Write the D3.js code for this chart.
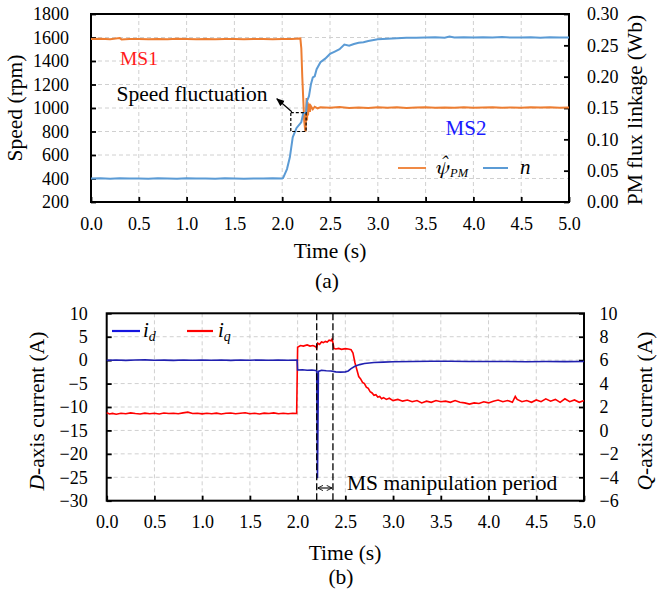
<!DOCTYPE html>
<html><head><meta charset="utf-8">
<script src="https://cdn.jsdelivr.net/npm/d3@7"></script>
</head>
<body style="margin:0;background:#fff">
<svg id="c" width="658" height="601" font-family="Liberation Serif" style="display:block;font-family:'Liberation Serif'"></svg>
<script>
// ---------------- data ----------------
const xTicks = [0,0.5,1,1.5,2,2.5,3,3.5,4,4.5,5];
const speedTicks = [200,400,600,800,1000,1200,1400,1600,1800];
const fluxTicks = [0,0.05,0.10,0.15,0.20,0.25,0.30];
const idTicks = [-30,-25,-20,-15,-10,-5,0,5,10];
const iqTicks = [-6,-4,-2,0,2,4,6,8,10];

// speed n (rpm), [time s, value]
const speedN = [[0,400],[0.1,402],[0.2,398],[0.3,403],[0.4,399],[0.5,401],[0.6,397],[0.7,402],[0.8,400],[0.9,398],[1.0,403],[1.1,399],[1.2,401],[1.3,397],[1.4,402],[1.5,400],[1.6,398],[1.7,401],[1.8,399],[1.9,402],[2.0,400],[2.01,405],[2.05,480],[2.08,580],[2.11,750],[2.15,830],[2.19,870],[2.2,880],[2.22,955],[2.25,960],[2.26,1060],[2.28,1100],[2.3,1200],[2.32,1260],[2.34,1270],[2.36,1330],[2.4,1390],[2.45,1420],[2.5,1460],[2.55,1480],[2.6,1500],[2.65,1540],[2.7,1530],[2.75,1545],[2.8,1555],[2.85,1560],[2.9,1570],[3.0,1585],[3.1,1590],[3.2,1593],[3.3,1597],[3.4,1598],[3.5,1600],[3.6,1602],[3.7,1598],[3.75,1608],[3.8,1600],[3.9,1603],[4.0,1599],[4.1,1602],[4.2,1600],[4.3,1604],[4.4,1599],[4.5,1601],[4.6,1603],[4.7,1598],[4.8,1602],[4.9,1600],[5.0,1601]];
// estimated PM flux linkage (Wb)
const fluxPsi = [[0,0.2600],[0.1,0.2605],[0.2,0.2598],[0.3,0.2615],[0.32,0.2595],[0.4,0.2600],[0.5,0.2603],[0.6,0.2598],[0.7,0.2601],[0.8,0.2599],[0.9,0.2604],[1.0,0.2600],[1.1,0.2598],[1.2,0.2602],[1.3,0.2599],[1.4,0.2601],[1.5,0.2600],[1.6,0.2598],[1.7,0.2603],[1.8,0.2600],[1.9,0.2599],[2.0,0.2602],[2.1,0.2600],[2.15,0.2605],[2.19,0.2610],[2.2,0.2450],[2.21,0.2000],[2.22,0.1650],[2.23,0.1300],[2.24,0.1150],[2.245,0.1125],[2.25,0.1400],[2.255,0.1660],[2.26,0.1300],[2.265,0.1600],[2.27,0.1380],[2.28,0.1570],[2.29,0.1440],[2.3,0.1530],[2.32,0.1480],[2.34,0.1520],[2.37,0.1495],[2.4,0.1510],[2.5,0.1505],[2.6,0.1515],[2.7,0.1502],[2.8,0.1508],[2.9,0.1500],[3.0,0.1512],[3.1,0.1503],[3.2,0.1510],[3.3,0.1502],[3.4,0.1508],[3.5,0.1510],[3.6,0.1503],[3.7,0.1509],[3.8,0.1505],[3.9,0.1511],[4.0,0.1503],[4.1,0.1508],[4.2,0.1512],[4.3,0.1504],[4.4,0.1509],[4.5,0.1503],[4.6,0.1510],[4.7,0.1506],[4.8,0.1512],[4.9,0.1504],[5.0,0.1508]];
// d-axis current (A)
const currentId = [[0,-0.05],[0.1,0.02],[0.2,-0.04],[0.3,0.03],[0.4,0.05],[0.5,-0.03],[0.6,0.0],[0.7,-0.05],[0.8,0.03],[0.9,-0.02],[1.0,0.04],[1.1,-0.03],[1.2,0.02],[1.3,-0.04],[1.4,0.03],[1.5,-0.02],[1.6,0.04],[1.7,-0.03],[1.8,0.02],[1.9,-0.02],[1.995,0.0],[2.0,-2.1],[2.05,-2.05],[2.1,-2.15],[2.15,-2.1],[2.19,-2.2],[2.2,-2.3],[2.208,-25.2],[2.218,-2.4],[2.25,-2.15],[2.3,-2.25],[2.35,-2.3],[2.4,-2.5],[2.45,-2.55],[2.5,-2.5],[2.53,-2.3],[2.56,-1.8],[2.6,-1.3],[2.65,-0.95],[2.7,-0.7],[2.75,-0.6],[2.8,-0.5],[2.9,-0.42],[3.0,-0.35],[3.2,-0.3],[3.4,-0.22],[3.6,-0.25],[3.8,-0.3],[4.0,-0.28],[4.2,-0.3],[4.4,-0.33],[4.6,-0.3],[4.8,-0.32],[5.0,-0.3]];
// q-axis current (A)
const currentIq = [[0,1.50],[0.03,1.40],[0.06,1.45],[0.1,1.38],[0.15,1.47],[0.2,1.42],[0.25,1.50],[0.3,1.44],[0.35,1.40],[0.4,1.48],[0.45,1.43],[0.5,1.46],[0.55,1.40],[0.6,1.49],[0.65,1.44],[0.7,1.47],[0.75,1.42],[0.8,1.50],[0.85,1.56],[0.9,1.44],[0.95,1.47],[1.0,1.41],[1.05,1.46],[1.1,1.43],[1.15,1.48],[1.2,1.40],[1.25,1.46],[1.3,1.49],[1.35,1.43],[1.4,1.47],[1.45,1.51],[1.5,1.42],[1.55,1.46],[1.6,1.40],[1.65,1.48],[1.7,1.44],[1.75,1.50],[1.8,1.42],[1.85,1.47],[1.9,1.43],[1.95,1.46],[1.99,1.45],[2.0,7.1],[2.03,7.25],[2.06,7.2],[2.1,7.3],[2.13,7.2],[2.16,7.25],[2.19,7.15],[2.2,7.0],[2.21,7.45],[2.23,7.35],[2.25,7.55],[2.27,7.5],[2.29,7.6],[2.31,7.55],[2.33,7.7],[2.35,7.65],[2.36,7.8],[2.37,7.5],[2.38,7.0],[2.4,6.95],[2.43,7.0],[2.46,6.92],[2.5,6.98],[2.53,6.95],[2.56,6.9],[2.58,6.6],[2.6,5.8],[2.62,5.2],[2.64,4.6],[2.66,4.4],[2.68,4.1],[2.7,4.0],[2.72,3.7],[2.74,3.6],[2.76,3.3],[2.78,3.2],[2.8,3.0],[2.82,3.05],[2.84,2.85],[2.86,2.9],[2.88,2.7],[2.9,2.8],[2.93,2.65],[2.96,2.75],[3.0,2.55],[3.05,2.65],[3.1,2.5],[3.15,2.6],[3.2,2.45],[3.25,2.55],[3.3,2.35],[3.35,2.5],[3.4,2.4],[3.45,2.55],[3.5,2.45],[3.55,2.5],[3.6,2.4],[3.65,2.55],[3.7,2.4],[3.75,2.35],[3.8,2.25],[3.85,2.35],[3.9,2.3],[3.95,2.45],[4.0,2.35],[4.05,2.5],[4.1,2.6],[4.15,2.45],[4.2,2.55],[4.25,2.4],[4.28,2.9],[4.3,2.65],[4.35,2.45],[4.4,2.55],[4.45,2.4],[4.5,2.6],[4.55,2.45],[4.6,2.7],[4.65,2.5],[4.7,2.65],[4.75,2.4],[4.8,2.7],[4.85,2.45],[4.9,2.6],[4.95,2.4],[5.0,2.55]];
// annotations
const fluctBox = {t0:2.09, t1:2.25, v0:800, v1:960};
const msPeriod = [2.2, 2.37];

// ---------------- drawing ----------------
const FONT = "'Liberation Serif', Tinos, 'Times New Roman', serif";
const svg = d3.select("#c");
const defs = svg.append("defs");
defs.append("marker").attr("id","ah").attr("viewBox","0 0 10 10").attr("refX",9).attr("refY",5)
  .attr("markerWidth",7).attr("markerHeight",7).attr("orient","auto-start-reverse")
  .append("path").attr("d","M0,1 L10,5 L0,9 z").attr("fill","#000");
defs.append("marker").attr("id","oa").attr("viewBox","0 0 10 10").attr("refX",10).attr("refY",5)
  .attr("markerWidth",6).attr("markerHeight",6).attr("orient","auto-start-reverse")
  .append("path").attr("d","M2,1 L10,5 L2,9").attr("fill","none").attr("stroke","#000").attr("stroke-width",1.3);

const TICKFS = 18, TITLEFS = 21.5;

function panel(o){
  const x = d3.scaleLinear().domain([0,5]).range([o.l,o.r]);
  const yL = d3.scaleLinear().domain(o.yLdom).range([o.b,o.t]);
  const yR = d3.scaleLinear().domain(o.yRdom).range([o.b,o.t]);
  const g = svg.append("g");
  g.append("g").selectAll("line").data(xTicks.slice(1,-1)).join("line")
    .attr("x1",d=>x(d)).attr("x2",d=>x(d)).attr("y1",o.t).attr("y2",o.b)
    .attr("stroke","#d0d0d0").attr("stroke-dasharray","4,3").attr("stroke-width",1);
  g.append("g").selectAll("line").data(o.yLticks.slice(1,-1)).join("line")
    .attr("x1",o.l).attr("x2",o.r).attr("y1",d=>yL(d)).attr("y2",d=>yL(d))
    .attr("stroke","#d0d0d0").attr("stroke-dasharray","4,3").attr("stroke-width",1);
  const ax = g.append("g").attr("transform",`translate(0,${o.b})`)
    .call(d3.axisBottom(x).tickValues(xTicks).tickFormat(d3.format(".1f")).tickSize(-5).tickPadding(o.xpad));
  const al = g.append("g").attr("transform",`translate(${o.l},0)`)
    .call(d3.axisLeft(yL).tickValues(o.yLticks).tickFormat(o.yLfmt).tickSize(-5).tickPadding(o.lpad));
  const ar = g.append("g").attr("transform",`translate(${o.r},0)`)
    .call(d3.axisRight(yR).tickValues(o.yRticks).tickFormat(o.yRfmt).tickSize(-5).tickPadding(o.rpad));
  [ax,al,ar].forEach(a=>{
    a.attr("font-family",FONT).attr("font-size",TICKFS);
    a.select(".domain").remove();
    a.selectAll("line").attr("stroke","#000").attr("stroke-width",1.8);
    a.selectAll("text").attr("font-size",TICKFS).attr("fill","#000").attr("font-family",FONT).style("font-family",FONT);
  });
  g.append("rect").attr("x",o.l).attr("y",o.t).attr("width",o.r-o.l).attr("height",o.b-o.t)
    .attr("fill","none").attr("stroke","#000").attr("stroke-width",2);
  return {x,yL,yR,g};
}

function txt(x,y,s,opt={}){
  const f = opt.font||FONT;
  const t = svg.append("text").attr("x",x).attr("y",y).attr("font-size",opt.fs||TITLEFS)
    .attr("font-family",f).style("font-family",f)
    .attr("fill",opt.fill||"#000").attr("text-anchor",opt.anchor||"middle");
  if(opt.rot) t.attr("transform",`rotate(${opt.rot},${x},${y})`);
  if(opt.italic) t.attr("font-style","italic");
  t.text(s); return t;
}

// ----- panel (a)
const A = panel({l:91,r:569,t:14,b:202,yLdom:[200,1800],yRdom:[0,0.3],
  yLticks:speedTicks,yRticks:fluxTicks,yLfmt:d3.format("d"),yRfmt:d3.format(".2f"),
  xpad:15,lpad:22,rpad:18});
const lineAR = d3.line().x(d=>A.x(d[0])).y(d=>A.yR(d[1]));
const lineAL = d3.line().x(d=>A.x(d[0])).y(d=>A.yL(d[1]));
A.g.append("path").datum(fluxPsi).attr("d",lineAR).attr("fill","none").attr("stroke","#ED7D31").attr("stroke-width",2);
A.g.append("path").datum(speedN).attr("d",lineAL).attr("fill","none").attr("stroke","#5B9BD5").attr("stroke-width",2);

A.g.append("rect").attr("x",A.x(fluctBox.t0)).attr("y",A.yL(fluctBox.v1))
  .attr("width",A.x(fluctBox.t1)-A.x(fluctBox.t0)).attr("height",A.yL(fluctBox.v0)-A.yL(fluctBox.v1))
  .attr("fill","none").attr("stroke","#000").attr("stroke-width",1.2).attr("stroke-dasharray","3,2");
A.g.append("line").attr("x1",A.x(fluctBox.t0)+1).attr("y1",A.yL(fluctBox.v1)-1)
  .attr("x2",A.x(fluctBox.t0)-14).attr("y2",A.yL(fluctBox.v1)-14)
  .attr("stroke","#000").attr("stroke-width",1.2).attr("marker-end","url(#ah)");

txt(192,101,"Speed fluctuation");
txt(139,65,"MS1",{fill:"#FF1A1A",fs:19.5});
txt(466,135,"MS2",{fill:"#1A1AFF",fs:21});
// legend (a)
svg.append("line").attr("x1",398).attr("x2",426).attr("y1",168).attr("y2",168).attr("stroke","#F08A45").attr("stroke-width",2);
txt(435,174,"ψ̂",{anchor:"start",italic:true,fs:21,font:"FreeSerif"});
txt(450,177,"PM",{anchor:"start",italic:true,fs:12.5});
svg.append("line").attr("x1",483).attr("x2",508).attr("y1",168).attr("y2",168).attr("stroke","#5B9BD5").attr("stroke-width",2);
txt(520,174,"n",{anchor:"start",italic:true,fs:21});
// titles (a)
txt(22,108,"Speed (rpm)",{rot:-90});
txt(642,110,"PM flux linkage (Wb)",{rot:-90});
txt(330,258,"Time (s)");
txt(327,288,"(a)");

// ----- panel (b)
const B = panel({l:106.7,r:584,t:313.3,b:500.7,yLdom:[-30,10],yRdom:[-6,10],
  yLticks:idTicks,yRticks:iqTicks,yLfmt:d3.format("d"),yRfmt:d3.format("d"),
  xpad:15,lpad:19,rpad:15.5});
const lineBL = d3.line().x(d=>B.x(d[0])).y(d=>B.yL(d[1]));
const lineBR = d3.line().x(d=>B.x(d[0])).y(d=>B.yR(d[1]));
B.g.append("path").datum(currentIq).attr("d",lineBR).attr("fill","none").attr("stroke","#FF0000").attr("stroke-width",1.6);
B.g.append("path").datum(currentId).attr("d",lineBL).attr("fill","none").attr("stroke","#2020B0").attr("stroke-width",1.6);
B.g.selectAll(".msl").data(msPeriod).join("line")
  .attr("x1",d=>B.x(d)).attr("x2",d=>B.x(d)).attr("y1",313.3).attr("y2",500.7)
  .attr("stroke","#000").attr("stroke-width",1.3).attr("stroke-dasharray","7,3");
B.g.append("line").attr("x1",B.x(msPeriod[0])+1).attr("x2",B.x(msPeriod[1])-1)
  .attr("y1",488).attr("y2",488).attr("stroke","#000").attr("stroke-width",1.1)
  .attr("marker-start","url(#oa)").attr("marker-end","url(#oa)");
txt(347,490,"MS manipulation period",{anchor:"start"});
// legend (b)
svg.append("line").attr("x1",112).attr("x2",140).attr("y1",331).attr("y2",331).attr("stroke","#1515E0").attr("stroke-width",2.2);
const ld = txt(143,337,"",{anchor:"start",italic:true,fs:21});
ld.append("tspan").text("i"); ld.append("tspan").attr("font-size",14).attr("dy",4).text("d");
svg.append("line").attr("x1",187).attr("x2",213).attr("y1",331).attr("y2",331).attr("stroke","#FF0000").attr("stroke-width",2.2);
const lq = txt(218,337,"",{anchor:"start",italic:true,fs:21});
lq.append("tspan").text("i"); lq.append("tspan").attr("font-size",14).attr("dy",4).text("q");
// titles (b)
const dt = txt(44,411,"",{rot:-90});
dt.append("tspan").attr("font-style","italic").text("D"); dt.append("tspan").text("-axis current (A)");
const qt = txt(652,411,"",{rot:-90});
qt.append("tspan").attr("font-style","italic").text("Q"); qt.append("tspan").text("-axis current (A)");
txt(345,560,"Time (s)");
txt(341,584,"(b)");
</script></body></html>
